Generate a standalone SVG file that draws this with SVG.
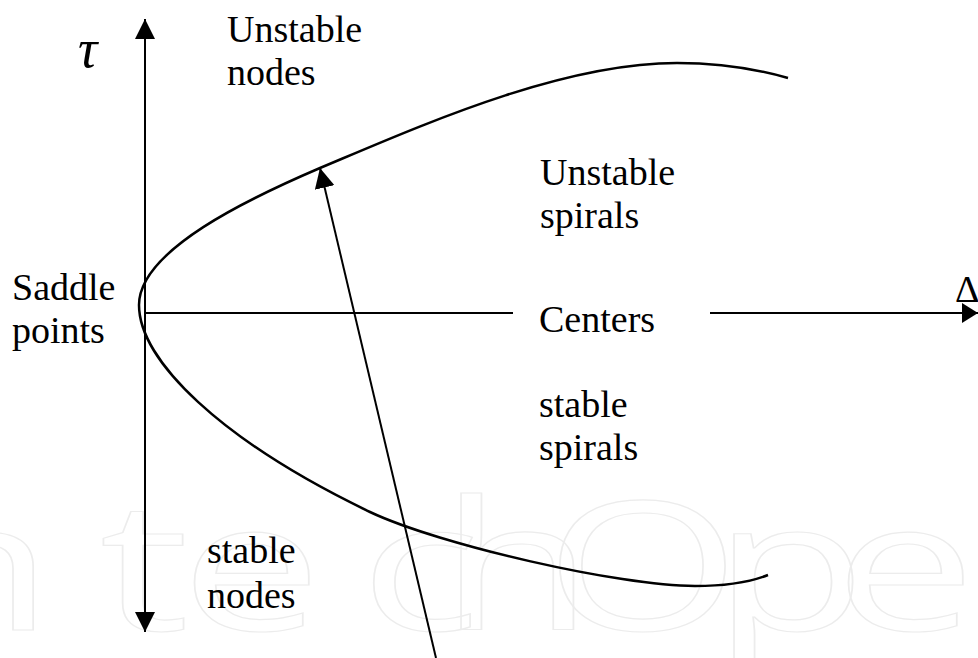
<svg xmlns="http://www.w3.org/2000/svg" width="978" height="658" viewBox="0 0 978 658">
<style>
.lbl{font-family:"Liberation Serif","Times New Roman",serif;font-size:38px;fill:#000}
.ln{stroke:#000;stroke-width:2;fill:none}
.crv{stroke:#000;stroke-width:2.5;fill:none}
.wm{font-family:"Open Sans","Noto Sans",sans-serif;font-size:180px;fill:none;stroke:#ececec;stroke-width:1.2}
</style>
<defs>
<marker id="ah" markerUnits="userSpaceOnUse" markerWidth="20" markerHeight="20" viewBox="0 0 20 20" refX="20" refY="10" orient="auto-start-reverse">
<path d="M0,0 L20,10 L0,20 z" fill="#000"/>
</marker>
<marker id="ah2" markerUnits="userSpaceOnUse" markerWidth="16" markerHeight="20" viewBox="0 0 16 20" refX="16" refY="10" orient="auto">
<path d="M0,0 L16,10 L0,20 z" fill="#000"/>
</marker>
</defs>
<rect width="978" height="658" fill="#fff"/>
<g id="watermark" transform="scale(1.4,1)">
<text class="wm" x="-72 71 129 257 314 389 509 596 687" y="630">ntechOpen</text>
</g>
<g id="connectors">
<line class="ln" x1="145" y1="632" x2="145" y2="19" marker-start="url(#ah)" marker-end="url(#ah)"/>
<line class="ln" x1="145" y1="313" x2="513" y2="313"/>
<line class="ln" x1="710" y1="313" x2="978" y2="313" marker-end="url(#ah2)"/>
<line class="ln" x1="436" y1="658" x2="320" y2="168" marker-end="url(#ah)"/>
</g>
<g id="curve">
<path class="crv" d="M788,78 C760,70 720,63 677,63 C560,63 420,126 320,168 C250,198 139,250 139,305 C139,360 220,440 370,512 C440,545 620,586 695,586 C725,586 750,582 768,575"/>
</g>
<g id="tau"><text x="78" y="67" style="font-family:'Liberation Serif','Times New Roman',serif;font-style:italic;font-size:54px">τ</text></g>
<g id="delta"><text class="lbl" x="955" y="302">Δ</text></g>
<g id="unstable-nodes"><text class="lbl" x="227" y="42">Unstable</text><text class="lbl" x="227" y="85">nodes</text></g>
<g id="saddle-points"><text class="lbl" x="12" y="300">Saddle</text><text class="lbl" x="12" y="343">points</text></g>
<g id="unstable-spirals"><text class="lbl" x="540" y="185">Unstable</text><text class="lbl" x="540" y="228">spirals</text></g>
<g id="centers"><text class="lbl" x="539" y="332">Centers</text></g>
<g id="stable-spirals"><text class="lbl" x="539" y="417">stable</text><text class="lbl" x="539" y="460">spirals</text></g>
<g id="stable-nodes"><text class="lbl" x="207" y="563">stable</text><text class="lbl" x="207" y="608">nodes</text></g>
</svg>
